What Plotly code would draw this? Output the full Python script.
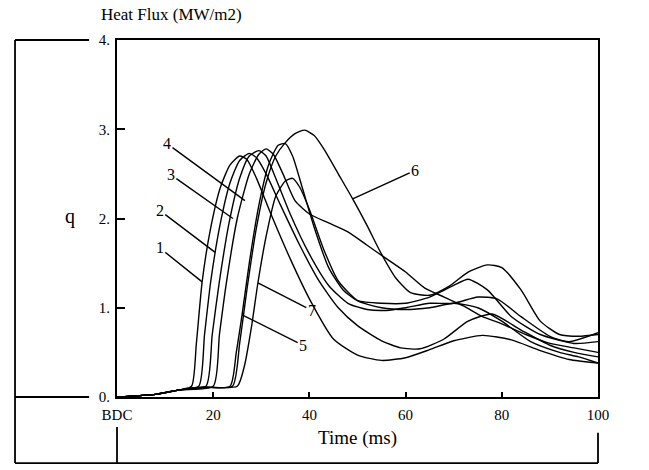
import plotly.graph_objects as go

# ---- data ----
t1 = [0, 8, 13, 15.5, 16.5, 17.7, 19.5, 21.5, 23.5, 25.5, 27, 29, 32, 36, 40, 45, 50, 55, 60, 65, 70, 76, 82, 88, 94, 100]
q1 = [0, 0.03, 0.08, 0.12, 0.6, 1.29, 1.9, 2.35, 2.6, 2.7, 2.66, 2.45, 2.05, 1.55, 1.1, 0.65, 0.47, 0.41, 0.44, 0.53, 0.63, 0.69, 0.64, 0.52, 0.42, 0.38]

t2 = [0, 8, 13, 17, 18.2, 19.5, 21.5, 23.5, 25.5, 27.5, 29, 31, 34, 38, 42, 46, 50, 55, 59, 63, 68, 73, 78, 84, 90, 95, 100]
q2 = [0, 0.03, 0.08, 0.12, 0.7, 1.3, 1.95, 2.4, 2.65, 2.73, 2.68, 2.5, 2.15, 1.7, 1.3, 1.0, 0.8, 0.63, 0.55, 0.54, 0.65, 0.85, 0.93, 0.75, 0.58, 0.5, 0.45]

t3 = [0, 8, 13, 18.5, 19.8, 21.3, 23.3, 25.5, 27.5, 29.5, 31, 33, 36, 40, 44, 48, 52, 56, 60, 65, 70, 75, 79, 84, 90, 95, 100]
q3 = [0, 0.03, 0.08, 0.12, 0.7, 1.3, 1.95, 2.45, 2.7, 2.76, 2.7, 2.45, 2.05, 1.6, 1.25, 1.05, 0.98, 0.97, 1.0, 1.05, 1.05, 1.12, 1.1, 0.9, 0.68, 0.6, 0.62]

t4 = [0, 8, 13, 20, 21.3, 22.8, 25, 27.5, 29.5, 31, 32.5, 34.5, 37, 40, 44, 48, 52, 56, 60, 64, 68, 72, 76, 80, 85, 90, 95, 100]
q4 = [0, 0.03, 0.08, 0.12, 0.7, 1.3, 2.0, 2.5, 2.72, 2.78, 2.72, 2.5, 2.2, 2.05, 1.95, 1.85, 1.7, 1.55, 1.4, 1.22, 1.12, 1.02, 0.9, 0.82, 0.7, 0.6, 0.55, 0.5]

t5 = [0, 8, 13, 18, 23.5, 24.8, 26, 27.5, 29.5, 31.5, 33.5, 35, 36.5, 38.5, 41, 44, 47, 50, 55, 60, 65, 70, 73, 77, 82, 88, 94, 100]
q5 = [0, 0.03, 0.08, 0.11, 0.12, 0.5, 0.92, 1.5, 2.15, 2.6, 2.82, 2.84, 2.7, 2.35, 1.9, 1.45, 1.2, 1.08, 1.05, 1.05, 1.12, 1.25, 1.32, 1.2, 0.9, 0.7, 0.62, 0.72]

t6 = [0, 8, 13, 18, 24, 25.5, 27, 29, 31, 33, 35, 37, 39, 41, 43, 46, 49, 52, 55, 58, 61, 65, 69, 73, 77, 80, 84, 88, 92, 96, 100]
q6 = [0, 0.03, 0.08, 0.11, 0.12, 0.6, 1.2, 1.9, 2.4, 2.7, 2.85, 2.95, 2.99, 2.93, 2.78, 2.5, 2.22, 1.92, 1.6, 1.33, 1.17, 1.14, 1.24, 1.4, 1.48, 1.45, 1.2, 0.85, 0.7, 0.68, 0.7]

t7 = [0, 8, 13, 18, 25, 26.5, 28, 29.3, 31, 33, 35, 36.5, 38, 40, 43, 46, 50, 55, 60, 65, 70, 75, 80, 86, 92, 96, 100]
q7 = [0, 0.03, 0.08, 0.11, 0.12, 0.35, 0.8, 1.28, 1.8, 2.25, 2.42, 2.45, 2.35, 2.1, 1.65, 1.3, 1.08, 1.0, 0.98, 1.0, 1.05, 1.0, 0.85, 0.62, 0.5, 0.45, 0.38]

series_t = [t1, t2, t3, t4, t5, t6, t7]
series_q = [q1, q2, q3, q4, q5, q6, q7]
series_names = ["1", "2", "3", "4", "5", "6", "7"]

# label text positions and leader-line end points (data units)
label_text = ["1", "2", "3", "4", "5", "6", "7"]
label_tx = [8.9, 8.9, 11.2, 10.4, 38.7, 62.0, 40.5]
label_tq = [1.67, 2.09, 2.49, 2.84, 0.58, 2.54, 0.97]
label_px = [17.7, 20.4, 24.1, 26.6, 26.0, 49.0, 29.3]
label_pq = [1.29, 1.62, 2.0, 2.2, 0.92, 2.22, 1.28]

x_tickvals = [0, 20, 40, 60, 80, 100]
x_ticktext = ["BDC", "20", "40", "60", "80", "100"]
y_tickvals = [0, 1, 2, 3, 4]
y_ticktext = ["0.", "1.", "2.", "3.", "4."]

FONT = "Liberation Serif"

fig = go.Figure()
for tt, qq, nm in zip(series_t, series_q, series_names):
    fig.add_trace(go.Scatter(x=tt, y=qq, mode="lines", name=nm,
                             line=dict(color="black", width=1.4, shape="spline", smoothing=0.6),
                             showlegend=False, hoverinfo="skip"))

for txt, tx, tq, px, pq in zip(label_text, label_tx, label_tq, label_px, label_pq):
    fig.add_annotation(x=px, y=pq, ax=tx, ay=tq, axref="x", ayref="y", xref="x", yref="y",
                       text=txt, showarrow=True, arrowhead=0, arrowwidth=1.4,
                       arrowcolor="black", font=dict(family=FONT, size=16, color="black"),
                       standoff=0)

# outer frame lines (paper coords)
L = -0.212
line_style = dict(color="black", width=1.8)
fig.add_shape(type="line", xref="paper", yref="paper", x0=L, x1=L, y0=1.0, y1=-0.185, line=line_style)
fig.add_shape(type="line", xref="paper", yref="paper", x0=L, x1=-0.058, y0=1.0, y1=1.0, line=line_style)
fig.add_shape(type="line", xref="paper", yref="paper", x0=L, x1=-0.058, y0=0.0, y1=0.0, line=line_style)
fig.add_shape(type="line", xref="paper", yref="paper", x0=L, x1=1.0, y0=-0.185, y1=-0.185, line=line_style)
fig.add_shape(type="line", xref="paper", yref="paper", x0=0, x1=0, y0=-0.084, y1=-0.185, line=line_style)
fig.add_shape(type="line", xref="paper", yref="paper", x0=1, x1=1, y0=-0.10, y1=-0.185, line=line_style)

fig.add_annotation(xref="paper", yref="paper", x=-0.112, y=0.505, text="q", showarrow=False,
                   font=dict(family=FONT, size=20, color="black"))
fig.add_annotation(xref="paper", yref="paper", x=-0.038, y=1.04, xanchor="left", yanchor="bottom",
                   text="Heat Flux (MW/m2)", showarrow=False,
                   font=dict(family=FONT, size=17, color="black"))
fig.add_annotation(xref="paper", yref="paper", x=0.5, y=-0.115, yanchor="middle",
                   text="Time (ms)", showarrow=False,
                   font=dict(family=FONT, size=19, color="black"))

fig.update_layout(
    width=649, height=470,
    margin=dict(l=117, r=51, t=40, b=73),
    paper_bgcolor="white", plot_bgcolor="white",
    font=dict(family=FONT, size=15, color="black"),
)
fig.update_xaxes(range=[0, 100], tickvals=x_tickvals, ticktext=x_ticktext,
                 showgrid=False, zeroline=False, showline=True, mirror=True,
                 linecolor="black", linewidth=2, ticks="inside", ticklen=5, tickwidth=1.5,
                 tickcolor="black", tickfont=dict(family=FONT, size=15), ticklabelstandoff=3)
fig.update_yaxes(range=[0, 4], tickvals=y_tickvals, ticktext=y_ticktext,
                 showgrid=False, zeroline=False, showline=True, mirror=True,
                 linecolor="black", linewidth=2, ticks="inside", ticklen=8, tickwidth=2,
                 tickcolor="black", tickfont=dict(family=FONT, size=15), ticklabelstandoff=2)

fig.write_html("out.html", config={"displayModeBar": False},
               post_script="document.body.style.margin='0';")
